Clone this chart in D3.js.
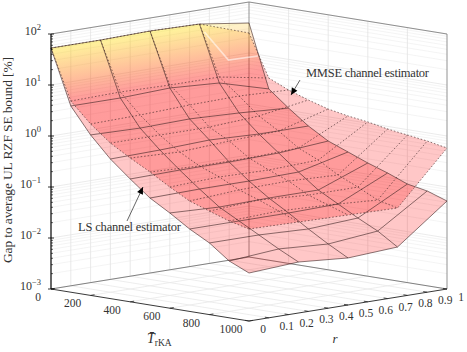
<!DOCTYPE html>
<html><head><meta charset="utf-8">
<script src="https://cdnjs.cloudflare.com/ajax/libs/d3/7.8.5/d3.min.js"></script>
<style>html,body{margin:0;padding:0;background:#fff}svg{display:block}text{font-family:"Liberation Serif",serif;fill:#333}</style>
</head><body><svg id="c" width="467" height="352"></svg>
<script>
const tValues=[0,100,200,300,400,500,600,700,800,900,1000];
const rValues=[0,0.25,0.5,0.75,1];
const lsR000=[53.1,4.48,1.40,0.546,0.256,0.125,0.0737,0.0413,0.0254,0.0130,0.00873];
const lsR025=[53.1,4.48,1.33,0.571,0.267,0.131,0.0671,0.0413,0.0254,0.0156,0.0100];
const lsR050=[55.6,4.90,1.40,0.625,0.267,0.131,0.0703,0.0413,0.0232,0.0136,0.00836];
const lsR075=[53.1,4.28,1.28,0.571,0.280,0.137,0.0703,0.0432,0.0265,0.0170,0.00955];
const lsR100=[38.7,2.28,1.11,0.571,0.335,0.236,0.166,0.122,0.0857,0.0723,0.0531];
const mmseR000=[53.1,5.61,2.30,1.12,0.661,0.406,0.238,0.146,0.107,0.0791,0.0637];
const mmseR025=[53.1,5.87,2.40,1.12,0.603,0.371,0.261,0.168,0.123,0.0865,0.0608];
const mmseR050=[55.6,5.61,2.63,1.12,0.690,0.371,0.249,0.175,0.107,0.0791,0.0582];
const mmseR075=[53.1,5.61,2.75,1.29,0.755,0.406,0.272,0.160,0.107,0.0690,0.0556];
const mmseR100=[24.7,3.74,2.51,1.85,1.42,1.20,1.06,0.889,0.783,0.690,0.582];
const lsSurface=[lsR000,lsR025,lsR050,lsR075,lsR100];
const mmseSurface=[mmseR000,mmseR025,mmseR050,mmseR075,mmseR100];
const seamT=[25,146,45], seamR=[0.75,0.75,1], seamZ=[38.4,12.9,9.3];
const tTicks=[0,200,400,600,800,1000];
const rTicks=[0,0.1,0.2,0.3,0.4,0.5,0.6,0.7,0.8,0.9,1];
const zExponents=[-3,-2,-1,0,1,2];

const svg=d3.select("#c");
const ox=51,oy=289;
const tX=d3.scaleLinear([0,1000],[0,198]), tY=d3.scaleLinear([0,1000],[0,32]);
const rX=d3.scaleLinear([0,1],[0,198]), rY=d3.scaleLinear([0,1],[0,-32]);
const zY=d3.scaleLog([1e-3,1e2],[0,-255]);
const P=(t,r,z)=>[ox+tX(t)+rX(r), oy+tY(t)+rY(r)+zY(z)];
const line=d3.line();
const zMin=1e-3,zMax=1e2;
const path=(pts,stroke,w,extra)=>{const p=svg.append("path").attr("d",line(pts)).attr("fill","none").attr("stroke",stroke).attr("stroke-width",w);if(extra)p.attr("stroke-dasharray",extra);return p;};

// walls and floor grid
const minorZ=[];zExponents.slice(0,-1).forEach(e=>{for(let m=2;m<=9;m++)minorZ.push(m*10**e)});
minorZ.forEach(z=>{path([P(0,0,z),P(0,1,z),P(1000,1,z)],"#ededed",0.6)});
zExponents.forEach(e=>{const z=10**e;path([P(0,0,z),P(0,1,z),P(1000,1,z)],"#e2e2e2",0.7)});
rTicks.slice(1,-1).forEach(r=>{path([P(0,r,zMin),P(0,r,zMax)],"#e2e2e2",0.8);path([P(0,r,zMin),P(1000,r,zMin)],"#e8e8e8",0.8)});
tTicks.slice(1,-1).forEach(t=>{path([P(t,1,zMin),P(t,1,zMax)],"#e2e2e2",0.8);path([P(t,0,zMin),P(t,1,zMin)],"#e8e8e8",0.8)});
// back box lines
path([P(0,0,zMin),P(0,1,zMin),P(1000,1,zMin)],"#666",0.8);
path([P(0,0,zMax),P(0,1,zMax),P(1000,1,zMax),P(1000,1,zMin)],"#777",0.8);
path([P(0,1,zMin),P(0,1,zMax)],"#777",0.8);

// surfaces
const defs=svg.append("defs");
const green=d3.scaleLinear([0.75,1.85],[0,255]).clamp(true);
const colorAt=lz=>`rgb(255,${Math.round(green(lz))},0)`;
let gid=0;
function fillFor(pts,lz){
  const hi=d3.max(lz);
  if(hi<=0.75)return colorAt(0);
  const mx=d3.mean(pts,d=>d[0]),my=d3.mean(pts,d=>d[1]),mz=d3.mean(lz);
  let sxx=0,sxy=0,syy=0,sxz=0,syz=0;
  pts.forEach((p,i)=>{const dx=p[0]-mx,dy=p[1]-my,dz=lz[i]-mz;sxx+=dx*dx;sxy+=dx*dy;syy+=dy*dy;sxz+=dx*dz;syz+=dy*dz;});
  const det=sxx*syy-sxy*sxy;
  const a=(sxz*syy-syz*sxy)/det,b=(syz*sxx-sxz*sxy)/det,n=Math.hypot(a,b);
  const ux=a/n,uy=b/n;
  const proj=pts.map(p=>(p[0]-mx)*ux+(p[1]-my)*uy);
  const s0=d3.min(proj),s1=d3.max(proj);
  const id="g"+(gid++);
  const g=defs.append("linearGradient").attr("id",id).attr("gradientUnits","userSpaceOnUse")
    .attr("x1",mx+ux*s0).attr("y1",my+uy*s0).attr("x2",mx+ux*s1).attr("y2",my+uy*s1);
  d3.range(9).forEach(i=>{const f=i/8,s=s0+(s1-s0)*f;
    g.append("stop").attr("offset",f).attr("stop-color",colorAt(mz+n*s));});
  return `url(#${id})`;
}
function surface(S){
  rValues.slice(0,-1).forEach((r,j)=>{
    tValues.slice(0,-1).forEach((t,i)=>{
      const c=[[i,j],[i+1,j],[i+1,j+1],[i,j+1]];
      const pts=c.map(([a,b])=>P(tValues[a],rValues[b],S[b][a]));
      const lz=c.map(([a,b])=>Math.log10(S[b][a]));
      svg.append("path").attr("d",line(pts)+"Z").attr("fill",fillFor(pts,lz)).attr("fill-opacity",0.22).attr("stroke","none");
    });
  });
}
function meshLines(S,dash,w){
  S.forEach((col,j)=>path(col.map((z,i)=>P(tValues[i],rValues[j],z)),"#3a2020",w,dash));
  tValues.forEach((t,i)=>path(S.map((col,j)=>P(t,rValues[j],col[i])),"#3a2020",w,dash));
}
surface(lsSurface);surface(mmseSurface);
path(seamT.map((t,i)=>P(t,seamR[i],seamZ[i])),"#fff",1.6).attr("stroke-opacity",0.55);
meshLines(mmseSurface,"1.6 1.9",0.6);meshLines(lsSurface,null,0.6);

// front axes
path([P(0,0,zMin),P(1000,0,zMin),P(1000,1,zMin)],"#222",0.9);
path([P(0,0,zMin),P(0,0,zMax)],"#000",1.2);
tTicks.forEach(t=>{const a=P(t,0,zMin),b=P(t,0.02,zMin);path([a,b],"#222",0.8);
  svg.append("text").attr("x",a[0]-(t==0?13:18)).attr("y",a[1]+12).attr("text-anchor","middle").attr("font-size",11.5).text(t);});
rTicks.forEach(r=>{const a=P(1000,r,zMin),b=P(980,r,zMin);path([a,b],"#222",0.8);
  svg.append("text").attr("x",a[0]+((r==0||r==1)?14:18)).attr("y",a[1]+12).attr("text-anchor","middle").attr("font-size",11.5).text(r);});
minorZ.forEach(z=>{const a=P(0,0,z);path([a,[a[0]+2,a[1]]],"#000",0.6)});
zExponents.forEach(e=>{const a=P(0,0,10**e);path([[a[0]-3,a[1]],[a[0]+3,a[1]]],"#000",0.8);
  const t=svg.append("text").attr("x",41).attr("y",a[1]+1).attr("text-anchor","end").attr("font-size",12);
  t.append("tspan").text("10");
  t.append("tspan").attr("dy",-5).attr("font-size",8.5).text(e<0?"\u2212"+(-e):e);
});

// titles
svg.append("text").attr("transform","translate(12,160) rotate(-90)").attr("text-anchor","middle").attr("font-size",13.5).attr("textLength",206).text("Gap to average UL RZF SE bound [%]");
const tt=svg.append("text").attr("x",147).attr("y",343).attr("font-size",14);
tt.append("tspan").attr("font-style","italic").text("T\u0304");
tt.append("tspan").attr("dy",2.5).attr("font-size",9.5).text("rKA");
svg.append("text").attr("x",335).attr("y",343).attr("text-anchor","middle").attr("font-style","italic").attr("font-size",13).text("r");

// annotations
svg.append("text").attr("x",306).attr("y",77).attr("font-size",12.5).attr("textLength",123).text("MMSE channel estimator");
svg.append("text").attr("x",78).attr("y",231).attr("font-size",12.5).attr("textLength",103).text("LS channel estimator");
const arrow=(x1,y1,x2,y2)=>{
  path([[x1,y1],[x2,y2]],"#222",0.7);
  const a=Math.atan2(y2-y1,x2-x1),L=7,W=3.2;
  const bx=x2-L*Math.cos(a),by=y2-L*Math.sin(a);
  svg.append("path").attr("d",line([[x2,y2],[bx-W*Math.sin(a),by+W*Math.cos(a)],[bx+W*Math.sin(a),by-W*Math.cos(a)]])+"Z").attr("fill","#000");
};
arrow(300,80,291,95);
arrow(127,221,143,187);
</script></body></html>
